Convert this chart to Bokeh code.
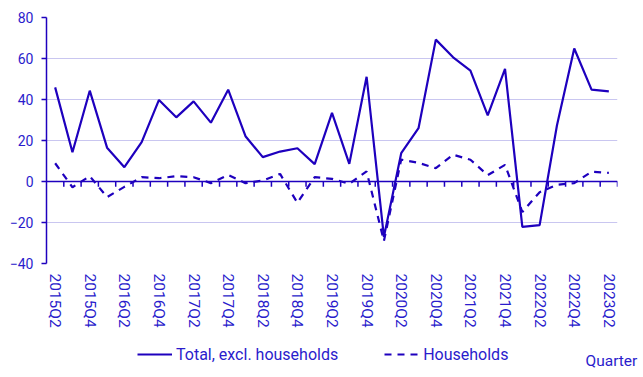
from bokeh.plotting import figure
from bokeh.layouts import column
from bokeh.models import (Range1d, FixedTicker, Span, Legend, LegendItem, Label,
                          ColumnDataSource)
from bokeh.embed import file_html
from bokeh.resources import INLINE

quarters = ["2015Q2", "2015Q3", "2015Q4", "2016Q1", "2016Q2", "2016Q3", "2016Q4",
            "2017Q1", "2017Q2", "2017Q3", "2017Q4", "2018Q1", "2018Q2", "2018Q3",
            "2018Q4", "2019Q1", "2019Q2", "2019Q3", "2019Q4", "2020Q1", "2020Q2",
            "2020Q3", "2020Q4", "2021Q1", "2021Q2", "2021Q3", "2021Q4", "2022Q1",
            "2022Q2", "2022Q3", "2022Q4", "2023Q1", "2023Q2"]
total_excl_households = [45.9, 14.3, 44.3, 16.5, 7.0, 19.2, 39.8, 31.3, 39.1, 28.7,
                         44.8, 22.1, 11.9, 14.6, 16.2, 8.5, 33.5, 8.6, 51.1, -27.0,
                         13.8, 26.0, 69.2, 60.6, 54.1, 32.3, 54.9, -22.1, -21.3,
                         27.3, 64.9, 44.8, 44.0]
households = [8.9, -2.8, 2.6, -7.6, -2.6, 2.1, 1.6, 2.6, 2.1, -0.8, 3.2, -0.8, 0.5,
              3.7, -10.4, 2.1, 1.3, -1.1, 4.9, -29.0, 10.7, 9.1, 6.5, 13.1, 10.6,
              3.1, 8.1, -14.9, -5.2, -1.6, -0.8, 4.8, 4.2]
y_ticks = [-40, -20, 0, 20, 40, 60, 80]
series_labels = ["Total, excl. households", "Households"]
x_title = "Quarter"

BLUE = "#1e00be"
TXT = "#2a1ccc"
GRID = "#c9c6f0"
FONT = "Roboto"
SOLID = dict(line_color=BLUE, line_width=2.2)
DASHED = dict(line_color=BLUE, line_width=2.2, line_dash="7 6")

idx = list(range(len(quarters)))
src = ColumnDataSource(dict(x=idx, total=total_excl_households, hh=households))

p = figure(width=643, height=335, output_backend="svg", toolbar_location=None,
           x_range=Range1d(-0.5, len(quarters) - 0.5),
           y_range=Range1d(min(y_ticks), max(y_ticks)),
           min_border_left=46, min_border_right=26, min_border_top=17,
           min_border_bottom=72)
p.outline_line_color = None
p.frame_align = False

# y axis
p.yaxis.ticker = FixedTicker(ticks=y_ticks)
p.yaxis.axis_line_color = BLUE
p.yaxis.axis_line_width = 1.5
p.yaxis.major_tick_line_color = BLUE
p.yaxis.major_tick_line_width = 1.5
p.yaxis.major_tick_out = 5
p.yaxis.major_tick_in = 0
p.yaxis.minor_tick_line_color = None
p.yaxis.major_label_text_font = FONT
p.yaxis.major_label_text_font_size = "14px"
p.yaxis.major_label_text_color = TXT
p.yaxis.major_label_standoff = 8

p.ygrid.ticker = FixedTicker(ticks=y_ticks)
p.ygrid.grid_line_color = GRID
p.ygrid.grid_line_width = 1
p.xgrid.grid_line_color = None

# x axis (labels only, at bottom)
even = [i for i in idx if i % 2 == 0]
p.xaxis.ticker = FixedTicker(ticks=even)
p.xaxis.major_label_overrides = {i: quarters[i] for i in even}
p.xaxis.major_label_orientation = "vertical"
p.xaxis.axis_line_color = None
p.xaxis.major_tick_line_color = None
p.xaxis.minor_tick_line_color = None
p.xaxis.major_label_text_font = FONT
p.xaxis.major_label_text_font_size = "15.5px"
p.xaxis.major_label_text_color = TXT
p.xaxis.major_label_standoff = 4

# zero line with category boundary ticks
p.add_layout(Span(location=0, dimension="width", line_color=BLUE, line_width=1.5))
bounds = [i + 0.5 for i in idx]
p.segment(x0=bounds, y0=[0] * len(bounds), x1=bounds, y1=[-2.6] * len(bounds),
          line_color=BLUE, line_width=1.5)

p.line("x", "total", source=src, **SOLID)
p.line("x", "hh", source=src, **DASHED)

# legend strip
q = figure(width=643, height=42, output_backend="svg", toolbar_location=None,
           min_border=0, x_axis_location=None, y_axis_location=None,
           x_range=Range1d(0, 1), y_range=Range1d(0, 1))
q.frame_align = False
q.grid.grid_line_color = None
q.outline_line_color = None
nan = float("nan")
l1 = q.line(x=[nan, nan], y=[nan, nan], **SOLID)
l2 = q.line(x=[nan, nan], y=[nan, nan], **DASHED)
legend = Legend(items=[LegendItem(label=series_labels[0], renderers=[l1]),
                       LegendItem(label=series_labels[1], renderers=[l2])],
                orientation="horizontal", location=(137, 13),
                background_fill_alpha=0, border_line_color=None,
                glyph_width=35, label_standoff=4, spacing=46, padding=0, margin=0,
                label_text_font=FONT, label_text_font_size="16px",
                label_text_color=TXT)
q.add_layout(legend)
q.add_layout(Label(x=585, y=17, x_units="screen", y_units="screen", text=x_title,
                   text_baseline="alphabetic",
                   text_font=FONT, text_font_size="15.5px", text_color=TXT))

open("out.html", "w").write(file_html(column(p, q, spacing=0), INLINE))
